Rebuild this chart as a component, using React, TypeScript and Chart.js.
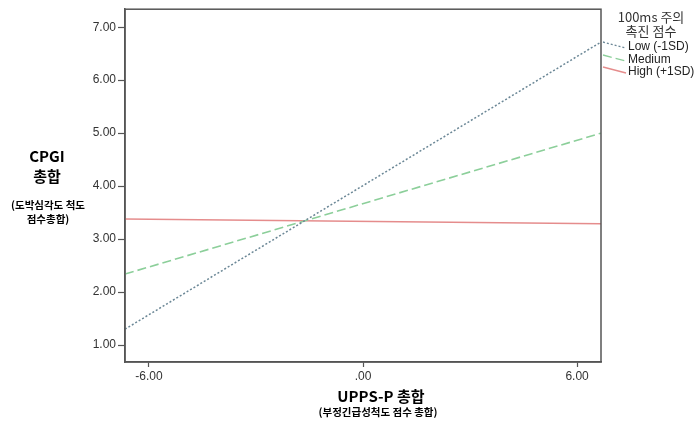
import React, { useEffect, useRef } from "react";
import { Chart, registerables } from "chart.js";

Chart.register(...registerables);

const xEnds = [-6.67, 6.67];
const lowValues = [1.3, 6.72];
const mediumValues = [2.34, 5.0];
const highValues = [3.38, 3.29];
const seriesLabels = ["Low (-1SD)", "Medium", "High (+1SD)"];
const xTicks = [-6, 0, 6];
const yTicks = [1, 2, 3, 4, 5, 6, 7];
const legendTitle = ["100ms 주의", "촉진 점수"];
const yTitle = ["CPGI", "총합"];
const ySubTitle = ["(도박심각도 척도", "점수총합)"];
const xTitle = "UPPS-P 총합";
const xSubTitle = "(부정긴급성척도 점수 총합)";

const colors = ["#6b8796", "#8ccf9a", "#e58c8c"];
const dashes = [[2, 2], [9, 4], []];

const fmt = (v: number) => {
  const s = Math.abs(v).toFixed(2);
  const t = s.startsWith("0") ? s.slice(1) : s;
  return (v < 0 ? "-" : "") + t;
};

const KFONT = "'Noto Sans CJK KR', 'Noto Sans', sans-serif";
const TFONT = "'Liberation Sans', Arial, sans-serif";

const decorPlugin = {
  id: "decor",
  afterDraw(chart: any) {
    const ctx = chart.ctx as CanvasRenderingContext2D;
    const a = chart.chartArea;
    ctx.save();
    // frame
    ctx.strokeStyle = "#555";
    ctx.lineWidth = 1.5;
    ctx.strokeRect(a.left, a.top, a.right - a.left, a.bottom - a.top);

    // y title
    ctx.fillStyle = "#000";
    ctx.textAlign = "center";
    ctx.textBaseline = "middle";
    ctx.font = `bold 15px ${KFONT}`;
    ctx.fillText(yTitle[0], 47, 156);
    ctx.fillText(yTitle[1], 47, 176);
    ctx.font = `bold 10.5px ${KFONT}`;
    ctx.fillText(ySubTitle[0], 48, 205);
    ctx.fillText(ySubTitle[1], 48, 219);

    // x title
    ctx.font = `bold 15px ${KFONT}`;
    ctx.fillText(xTitle, 381, 396);
    ctx.font = `bold 10.5px ${KFONT}`;
    ctx.fillText(xSubTitle, 378, 412);

    // legend
    ctx.fillStyle = "#333";
    ctx.font = `13px ${KFONT}`;
    ctx.fillText(legendTitle[0], 651, 17);
    ctx.fillText(legendTitle[1], 651, 31);
    const ys = [47, 60, 72];
    ctx.font = `12px ${TFONT}`;
    ctx.textAlign = "left";
    for (let i = 0; i < 3; i++) {
      ctx.strokeStyle = colors[i];
      ctx.lineWidth = 1.3;
      ctx.setLineDash(dashes[i]);
      ctx.beginPath();
      ctx.moveTo(603, ys[i] - 5);
      ctx.lineTo(626, ys[i] + 1);
      ctx.stroke();
      ctx.setLineDash([]);
      ctx.fillStyle = "#222";
      ctx.fillText(seriesLabels[i], 628, ys[i]);
    }
    ctx.restore();
  },
};

export default function App() {
  const ref = useRef<HTMLCanvasElement | null>(null);
  useEffect(() => {
    if (!ref.current) return;
    const series = [lowValues, mediumValues, highValues];
    const chart = new Chart(ref.current, {
      type: "line",
      data: {
        datasets: series.map((vals, i) => ({
          label: seriesLabels[i],
          data: vals.map((v, j) => ({ x: xEnds[j], y: v })),
          borderColor: colors[i],
          borderWidth: i === 0 ? 1.5 : 1.6,
          borderDash: dashes[i],
          pointRadius: 0,
          fill: false,
          tension: 0,
        })),
      },
      options: {
        responsive: false,
        animation: false,
        maintainAspectRatio: false,
        layout: { padding: { left: 0, right: 98, top: 7, bottom: 0 } },
        plugins: { legend: { display: false }, tooltip: { enabled: false } },
        scales: {
          x: {
            type: "linear",
            min: xEnds[0],
            max: xEnds[1],
            afterBuildTicks: (s: any) => {
              s.ticks = xTicks.map((v) => ({ value: v }));
            },
            afterFit: (s: any) => {
              s.height = 60;
            },
            grid: {
              drawOnChartArea: false,
              drawTicks: true,
              tickLength: 5,
              color: "#555",
              tickWidth: 1.2,
            },
            border: { display: true, color: "#555", width: 1.5 },
            ticks: {
              callback: (v: any) => fmt(Number(v)),
              color: "#333",
              font: { size: 12, family: TFONT },
              padding: 2,
              maxRotation: 0,
            },
          },
          y: {
            type: "linear",
            min: 0.68,
            max: 7.34,
            afterBuildTicks: (s: any) => {
              s.ticks = yTicks.map((v) => ({ value: v }));
            },
            afterFit: (s: any) => {
              s.width = 125;
            },
            grid: {
              drawOnChartArea: false,
              drawTicks: true,
              tickLength: 7,
              color: "#555",
              tickWidth: 1.2,
            },
            border: { display: true, color: "#555", width: 1.5 },
            ticks: {
              callback: (v: any) => fmt(Number(v)),
              color: "#333",
              font: { size: 12, family: TFONT },
              padding: 2,
            },
          },
        },
      },
      plugins: [decorPlugin],
    } as any);
    return () => chart.destroy();
  }, []);
  return (
    <div style={{ position: "fixed", left: 0, top: 0, width: 699, height: 422, background: "#fff" }}>
      <canvas ref={ref} width={699} height={422} style={{ width: 699, height: 422 }} />
    </div>
  );
}
